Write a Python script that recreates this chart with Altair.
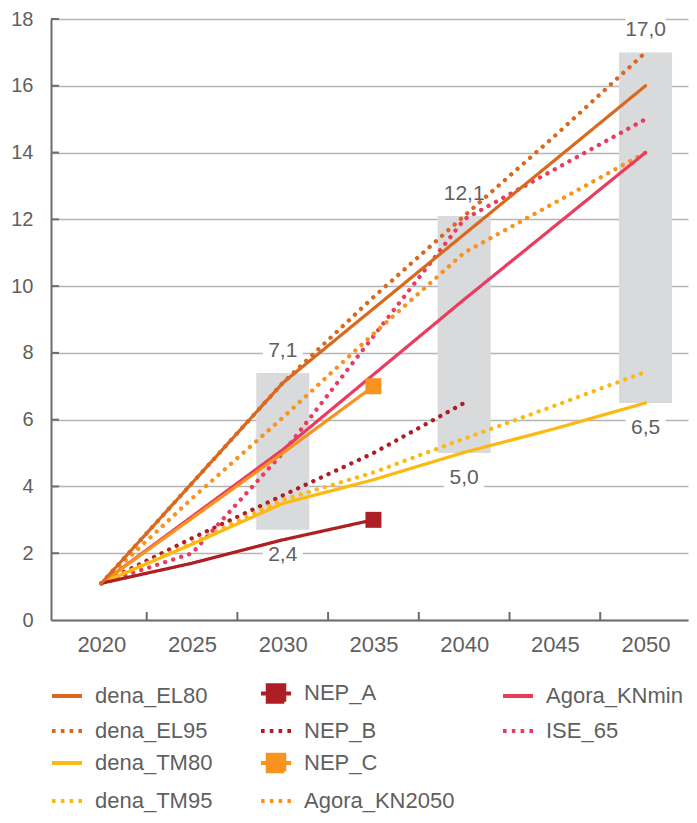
import altair as alt
import pandas as pd

# ---------------- data ----------------
dena_EL80_years = [2020, 2030, 2050]
dena_EL80_vals = [1.1, 7.1, 16.0]

dena_EL95_years = [2020, 2025, 2030, 2035, 2040, 2045, 2050]
dena_EL95_vals = [1.1, 4.1, 7.1, 9.67, 12.1, 14.5, 17.0]

dena_TM80_years = [2020, 2025, 2030, 2035, 2040, 2045, 2050]
dena_TM80_vals = [1.1, 2.27, 3.49, 4.2, 5.02, 5.73, 6.5]

dena_TM95_years = [2020, 2025, 2030, 2035, 2040, 2045, 2050]
dena_TM95_vals = [1.1, 2.3, 3.6, 4.42, 5.43, 6.42, 7.43]

NEP_A_years = [2020, 2025, 2030, 2035]
NEP_A_vals = [1.1, 1.7, 2.4, 3.0]

NEP_B_years = [2020, 2025, 2030, 2035, 2040]
NEP_B_vals = [1.1, 2.45, 3.73, 5.0, 6.5]

NEP_C_years = [2020, 2030, 2035]
NEP_C_vals = [1.1, 5.0, 7.0]

Agora_KN2050_years = [2020, 2025, 2030, 2035, 2040, 2045, 2050]
Agora_KN2050_vals = [1.1, 3.64, 6.06, 8.57, 11.0, 12.5, 14.0]

Agora_KNmin_years = [2020, 2030, 2040, 2050]
Agora_KNmin_vals = [1.1, 5.1, 9.6, 14.0]

ISE_65_years = [2020, 2025, 2030, 2035, 2040, 2045, 2050]
ISE_65_vals = [1.1, 2.0, 5.0, 8.5, 12.0, 13.5, 15.0]

# end markers (squares)
marker_series = ["NEP_A", "NEP_C"]
marker_years = [2035, 2035]
marker_vals = [3.0, 7.0]

# range boxes
range_years = [2030, 2040, 2050]
range_low = [2.7, 5.0, 6.5]
range_high = [7.4, 12.1, 17.0]
range_low_label = ["2,4", "5,0", "6,5"]
range_high_label = ["7,1", "12,1", "17,0"]

# axes
x_labels = [2020, 2025, 2030, 2035, 2040, 2045, 2050]
x_tick_marks = [2022.5, 2027.5, 2032.5, 2037.5, 2042.5, 2047.5]
y_ticks = [0, 2, 4, 6, 8, 10, 12, 14, 16, 18]

# legend order (row-major, 3 columns; " " is an empty cell)
legend_order = ["dena_EL80", "NEP_A", "Agora_KNmin",
                "dena_EL95", "NEP_B", "ISE_65",
                "dena_TM80", "NEP_C", " ",
                "dena_TM95", "Agora_KN2050"]
legend_colors = ["#d8691f", "#ad1f24", "#ea3b60",
                 "#d8691f", "#ad1f24", "#ea3b60",
                 "#fcb913", "#f7931e", "transparent",
                 "#fcb913", "#f7931e"]
dotted_series = ["dena_EL95", "NEP_B", "ISE_65", "dena_TM95", "Agora_KN2050"]

# drawing order (back to front)
draw_order = [
    ("NEP_B", NEP_B_years, NEP_B_vals),
    ("dena_TM95", dena_TM95_years, dena_TM95_vals),
    ("ISE_65", ISE_65_years, ISE_65_vals),
    ("Agora_KN2050", Agora_KN2050_years, Agora_KN2050_vals),
    ("dena_EL95", dena_EL95_years, dena_EL95_vals),
    ("Agora_KNmin", Agora_KNmin_years, Agora_KNmin_vals),
    ("NEP_C", NEP_C_years, NEP_C_vals),
    ("dena_TM80", dena_TM80_years, dena_TM80_vals),
    ("NEP_A", NEP_A_years, NEP_A_vals),
    ("dena_EL80", dena_EL80_years, dena_EL80_vals),
]

rows = []
for i, (name, ys, vs) in enumerate(draw_order):
    style = "dot" if name in dotted_series else "solid"
    for y, v in zip(ys, vs):
        rows.append({"series": name, "style": style, "year": y, "value": v, "z": i})
lines_df = pd.DataFrame(rows)

markers_df = pd.DataFrame({"series": marker_series, "year": marker_years, "value": marker_vals})
ranges_df = pd.DataFrame({"year": range_years, "low": range_low, "high": range_high,
                          "low_label": range_low_label, "high_label": range_high_label})
xt_df = pd.DataFrame({"t": x_tick_marks})
yt_df = pd.DataFrame({"v": y_ticks[1:]})

# ---------------- styling ----------------
FONT = "Liberation Sans"
TEXT = "#5f5f5f"
AXIS = "#6d6d6d"
GRID = "#b5b5b5"
BOX = "#d9dadb"
W, H = 637, 601
PX_PER_YEAR = 18.43

xscale = alt.Scale(domain=[2017.5, 2017.5 + W / PX_PER_YEAR], nice=False, zero=False)
yscale = alt.Scale(domain=[0, 18], nice=False)
color_scale = alt.Scale(domain=legend_order, range=legend_colors)
dash_scale = alt.Scale(domain=["solid", "dot"], range=[[1, 0], [0.1, 8.3]])
width_scale = alt.Scale(domain=["solid", "dot"], range=[3.2, 4.3])

square_path = "M-1,0H1M-0.55,-0.55H0.55V0.55H-0.55Z"
line_path = "M-1,0H1"
dotted_js = "[" + ",".join("'" + s + "'" for s in dotted_series) + "]"

legend = alt.Legend(
    title=None,
    orient="none",
    direction="horizontal",
    legendX=-1,
    legendY=657,
    columns=3,
    columnPadding=40,
    rowPadding=4,
    symbolSize=900,
    symbolType={"expr": "(datum.value === 'NEP_A' || datum.value === 'NEP_C') ? '" + square_path + "' : '" + line_path + "'"},
    symbolFillColor={"expr": "scale('color', datum.value)"},
    symbolStrokeColor={"expr": "scale('color', datum.value)"},
    symbolDash={"expr": "indexof(" + dotted_js + ", datum.value) >= 0 ? [3.6, 5.2] : [1, 0]"},
    symbolStrokeWidth=4,
    symbolOpacity=1,
    labelFont=FONT,
    labelFontSize=22,
    labelColor=TEXT,
    labelOffset=11,
    labelLimit=300,
)

x_axis = alt.Axis(values=x_labels, format="d", ticks=False, grid=False, title=None,
                  labelFont=FONT, labelFontSize=22, labelColor=TEXT, labelPadding=14,
                  domainColor=AXIS, domainWidth=2)
y_axis = alt.Axis(values=y_ticks, ticks=False, grid=True, gridColor=GRID, gridWidth=1.5,
                  title=None, labelFont=FONT, labelFontSize=20, labelColor=TEXT,
                  labelPadding=18, domainColor=AXIS, domainWidth=2)

boxes = alt.Chart(ranges_df).mark_bar(size=53, color=BOX).encode(
    x=alt.X("year:Q", scale=xscale, axis=x_axis),
    y=alt.Y("low:Q", scale=yscale, axis=y_axis),
    y2="high:Q",
)

bg_path = "M-1,-0.62H1V0.62H-1Z"
top_bg = alt.Chart(ranges_df).mark_point(shape=bg_path, filled=True, color="white",
                                         opacity=1, size=1600, yOffset=-22).encode(
    x=alt.X("year:Q", scale=xscale), y=alt.Y("high:Q", scale=yscale))
bot_bg = alt.Chart(ranges_df).mark_point(shape=bg_path, filled=True, color="white",
                                         opacity=1, size=1600, yOffset=25).encode(
    x=alt.X("year:Q", scale=xscale), y=alt.Y("low:Q", scale=yscale))

top_txt = alt.Chart(ranges_df).mark_text(dy=-22, font=FONT, fontSize=21, color=TEXT).encode(
    x=alt.X("year:Q", scale=xscale), y=alt.Y("high:Q", scale=yscale), text="high_label:N")
bot_txt = alt.Chart(ranges_df).mark_text(dy=25, font=FONT, fontSize=21, color=TEXT).encode(
    x=alt.X("year:Q", scale=xscale), y=alt.Y("low:Q", scale=yscale), text="low_label:N")

ytick_marks = alt.Chart(yt_df).mark_rule(color=AXIS, strokeWidth=2).encode(
    y=alt.Y("v:Q", scale=yscale), x=alt.value(0), x2=alt.value(8))
xtick_marks = alt.Chart(xt_df).mark_rule(color=AXIS, strokeWidth=2).encode(
    x=alt.X("t:Q", scale=xscale), y=alt.value(H), y2=alt.value(H - 8))

lines = alt.Chart(lines_df).mark_line(strokeCap="round", strokeJoin="round").encode(
    x=alt.X("year:Q", scale=xscale),
    y=alt.Y("value:Q", scale=yscale),
    color=alt.Color("series:N", scale=color_scale, legend=legend),
    strokeDash=alt.StrokeDash("style:N", scale=dash_scale, legend=None),
    strokeWidth=alt.StrokeWidth("style:N", scale=width_scale, legend=None),
    order=alt.Order("year:Q"),
    detail="z:N",
)

squares = alt.Chart(markers_df).mark_square(size=256, opacity=1).encode(
    x=alt.X("year:Q", scale=xscale),
    y=alt.Y("value:Q", scale=yscale),
    color=alt.Color("series:N", scale=color_scale, legend=None),
)

chart = alt.layer(
    boxes, top_bg, bot_bg, top_txt, bot_txt, ytick_marks, xtick_marks, lines, squares
).properties(
    width=W, height=H,
    autosize=alt.AutoSizeParams(type="none"),
    padding={"left": 43, "top": 11, "right": 1, "bottom": 195},
).configure_view(stroke=None)

chart.save("out.html", embed_options={"renderer": "svg", "actions": False})
